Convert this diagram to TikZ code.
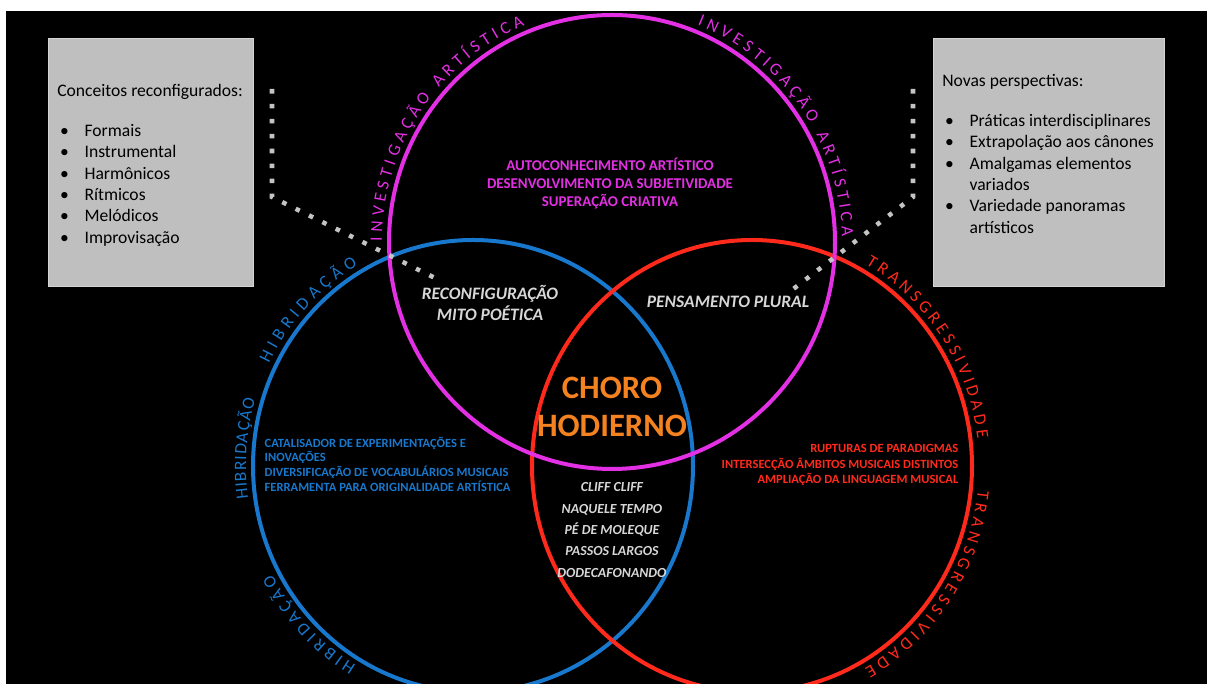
\documentclass[tikz,border=0pt]{standalone}
\usepackage{fontspec}
\setmainfont{Carlito}
\usetikzlibrary{decorations.text}
\definecolor{cmag}{RGB}{228,48,228}
\definecolor{cblue}{RGB}{24,120,205}
\definecolor{cred}{RGB}{255,42,28}
\definecolor{corange}{RGB}{245,130,32}
\definecolor{cgraytxt}{RGB}{215,215,215}
\definecolor{cbox}{RGB}{191,191,191}
\definecolor{cboxline}{RGB}{212,212,212}
\definecolor{cdots}{RGB}{196,196,196}
\newcommand\bul{\makebox[20.5pt][l]{\hspace{2.2pt}\textbullet}}
\newcommand\nobul{\makebox[20.5pt][l]{}}
\newcommand\labfont{\fontsize{13}{15}\selectfont}
\begin{document}
\begin{tikzpicture}[x=0.75pt,y=0.75pt,
  ring/.style={line width=3pt},
  curvelab/.style 2 args={decorate, decoration={text along path, text align={fit to path}, text color=#1, text={|\labfont|#2}}},
  box/.style={draw=cboxline, fill=cbox, line width=0.75pt, minimum height=186pt, inner sep=0pt},
  boxtext/.style={font=\fontsize{13.2}{16}\selectfont, text=black, inner sep=0pt, anchor=base west},
  dots/.style={cdots, line width=3.4pt, dash pattern=on 3.4pt off 7.8pt},
  itxt/.style={font=\bfseries\itshape\fontsize{13.1}{16}\selectfont, text=cgraytxt, align=center},
]
\useasboundingbox (0,0) rectangle (1207,684);
\fill[white] (0,0) rectangle (1207,684);
\fill[black] (6,0) rectangle (1207,673);

% circle centres
\coordinate (M) at (612,442);
\coordinate (B) at (473,218);
\coordinate (R) at (752,218);

\begin{scope}
\clip (6,0) rectangle (1207,673);
\draw[ring, cblue] (B) ellipse[x radius=220, y radius=226];
\draw[ring, cred] (R) ellipse[x radius=220, y radius=226];
\draw[ring, cmag] (M) ellipse[x radius=223, y radius=227];
\end{scope}

% curved labels
\path[curvelab={cmag}{INVESTIGAÇÃO ARTÍSTICA}] (M) ++(179.8:230 and 234) arc[start angle=179.8, end angle=112.3, x radius=230, y radius=234];
\path[curvelab={cmag}{INVESTIGAÇÃO ARTÍSTICA}] (M) ++(68.2:230 and 234) arc[start angle=68.2, end angle=1.4, x radius=230, y radius=234];
\path[curvelab={cblue}{HIBRIDAÇÃO}] (B) ++(154:227 and 233) arc[start angle=154, end angle=120.5, x radius=227, y radius=233];
\path[curvelab={cblue}{HIBRIDAÇÃO}] (B) ++(188:227 and 233) arc[start angle=188, end angle=163.5, x radius=227, y radius=233];
\path[curvelab={cblue}{HIBRIDAÇÃO}] (B) ++(239:227 and 233) arc[start angle=239, end angle=207.8, x radius=227, y radius=233];
\path[curvelab={cred}{TRANSGRESSIVIDADE}] (R) ++(60:227 and 233) arc[start angle=60, end angle=6.8, x radius=227, y radius=233];
\path[curvelab={cred}{TRANSGRESSIVIDADE}] (R) ++(-6:227 and 233) arc[start angle=-6, end angle=-60.3, x radius=227, y radius=233];

% boxes
\node[box, minimum width=153.75pt] (lbox) at (150.5,521) {};
\node[box, minimum width=173.25pt] (rbox) at (1048.5,521) {};
\node[boxtext] (ltext) at (57,587) {\begin{tabular}[t]{@{}l@{}}
Conceitos reconfigurados:\\[13.7pt]
\bul Formais\\
\bul Instrumental\\
\bul Harmônicos\\
\bul Rítmicos\\
\bul Melódicos\\
\bul Improvisação
\end{tabular}};
\node[boxtext] (rtext) at (942,597) {\begin{tabular}[t]{@{}l@{}}
Novas perspectivas:\\[13.7pt]
\bul Práticas interdisciplinares\\
\bul Extrapolação aos cânones\\
\bul Amalgamas elementos\\
\nobul variados\\
\bul Variedade panoramas\\
\nobul artísticos
\end{tabular}};

% dotted connectors
\coordinate (la) at (272,595);
\coordinate (lb) at (272,487);
\coordinate (lc) at (435,406);
\coordinate (ra) at (913,595);
\coordinate (rb) at (913,487);
\coordinate (rc) at (792,394);
\draw[dots] (la) -- (lb) -- (lc);
\draw[dots] (ra) -- (rb) -- (rc);

% inner texts
\node[font=\bfseries\fontsize{11.2}{13.5}\selectfont, text=cmag, align=center] (mtext) at (610,501)
  {AUTOCONHECIMENTO ARTÍSTICO\\DESENVOLVIMENTO DA SUBJETIVIDADE\\SUPERAÇÃO CRIATIVA};
\node[itxt] (reconf) at (490,381) {RECONFIGURAÇÃO\\MITO POÉTICA};
\node[itxt] (plural) at (728,382) {PENSAMENTO PLURAL};
\node[font=\bfseries\fontsize{24.5}{28.5}\selectfont, text=corange, align=center] (choro) at (612,277) {CHORO\\HODIERNO};
\node[font=\bfseries\fontsize{9.4}{11}\selectfont, text=cblue, align=left, anchor=west] (btext) at (260,220)
  {CATALISADOR DE EXPERIMENTAÇÕES E\\INOVAÇÕES\\DIVERSIFICAÇÃO DE VOCABULÁRIOS MUSICAIS\\FERRAMENTA PARA ORIGINALIDADE ARTÍSTICA};
\node[font=\bfseries\fontsize{9.4}{11.6}\selectfont, text=cred, align=right, anchor=east] (rtextc) at (963,219)
  {RUPTURAS DE PARADIGMAS\\INTERSECÇÃO ÂMBITOS MUSICAIS DISTINTOS\\AMPLIAÇÃO DA LINGUAGEM MUSICAL};
\node[font=\bfseries\itshape\fontsize{10.4}{16}\selectfont, text=cgraytxt, align=center] (songs) at (612,154)
  {CLIFF CLIFF\\NAQUELE TEMPO\\PÉ DE MOLEQUE\\PASSOS LARGOS\\DODECAFONANDO};
\end{tikzpicture}
\end{document}
